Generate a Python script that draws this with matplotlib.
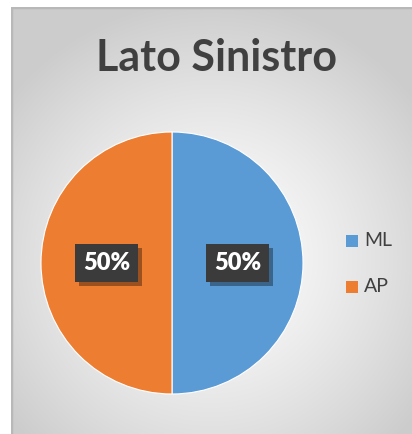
import matplotlib
matplotlib.use('Agg')
from matplotlib import pyplot as plt
from matplotlib.patches import Rectangle
import matplotlib.patheffects as pe
import numpy as np

title = 'Lato Sinistro'
labels = ['ML', 'AP']
values = [50, 50]
colors = ['#5B9BD5', '#ED7D31']

W, H = 412, 434
fig = plt.figure(figsize=(W / 100, H / 100), dpi=100)
fig.patch.set_facecolor('white')

# background with radial gradient
bg = fig.add_axes([11 / W, 0, (W - 11) / W, (H - 7) / H])
yy, xx = np.mgrid[0:427, 0:401]
d = np.sqrt(((xx - 200) / 260.0) ** 2 + ((yy - 250) / 260.0) ** 2)
d = np.clip(d, 0, 1)
shade = 1.0 - 0.2 * d ** 1.3
img = np.dstack([shade, shade, shade])
bg.imshow(img, aspect='auto', extent=[0, 1, 0, 1], origin='upper')
bg.plot([0, 0], [0, 1], color='#b8b8b8', lw=2.5)
bg.plot([0, 1], [1, 1], color='#b8b8b8', lw=2.5)
bg.set_xlim(0, 1)
bg.set_ylim(0, 1)
bg.axis('off')

fig.text(217 / W, 1 - 58 / H, title, ha='center', va='center',
         fontsize=31, fontweight='bold', color='#404040', family='Lato')

# pie
cx, cy, r = 172, 263, 131
ax = fig.add_axes([(cx - r) / W, 1 - (cy + r) / H, 2 * r / W, 2 * r / H])
wedges, _ = ax.pie(values, colors=colors, startangle=90, counterclock=False,
                   wedgeprops=dict(edgecolor='white', linewidth=0.8))
ax.set_xlim(-1, 1)
ax.set_ylim(-1, 1)
ax.set_aspect('equal')

for w, v in zip(wedges, values):
    ang = np.deg2rad((w.theta1 + w.theta2) / 2)
    x, y = 0.5 * np.cos(ang), 0.5 * np.sin(ang)
    t = ax.text(x, y, '%d%%' % v, ha='center', va='center', fontsize=17,
                fontweight='heavy', color='white', family='Lato',
                bbox=dict(boxstyle='square,pad=0.35', facecolor='#3b3b3b', edgecolor='none'))
    t.get_bbox_patch().set_path_effects(
        [pe.SimplePatchShadow(offset=(3, -3), shadow_rgbFace='black', alpha=0.35), pe.Normal()])

# legend
for i, (lab, c) in enumerate(zip(labels, colors)):
    ly = 241 + i * 46
    fig.patches.append(Rectangle((346 / W, 1 - (ly + 6) / H), 12 / W, 12 / H,
                                 transform=fig.transFigure, facecolor=c, edgecolor='none'))
    fig.text(364 / W, 1 - ly / H, lab, ha='left', va='center', fontsize=14,
             color='#404040', family='Lato')

fig.savefig('out.png', dpi=100)
